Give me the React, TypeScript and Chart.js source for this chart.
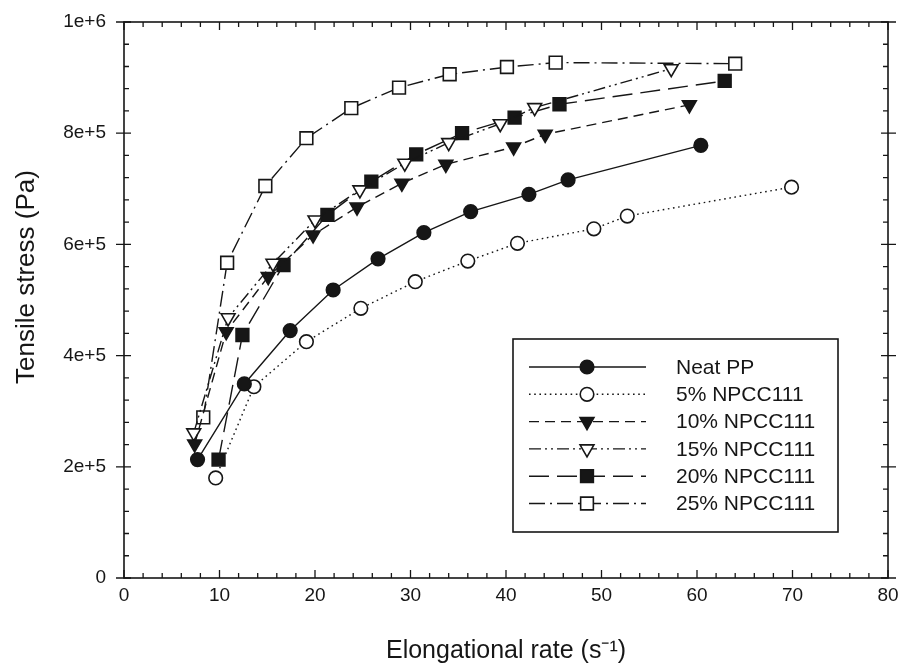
import React, { useEffect, useRef } from 'react';
import { Chart, registerables } from 'chart.js';
import { drawPoint } from 'chart.js/helpers';

Chart.register(...registerables);

const seriesLabels = ['Neat PP', '5% NPCC111', '10% NPCC111', '15% NPCC111', '20% NPCC111', '25% NPCC111'];

const neatX = [7.7, 12.6, 17.4, 21.9, 26.6, 31.4, 36.3, 42.4, 46.5, 60.4];
const neatY = [2.13e5, 3.49e5, 4.45e5, 5.18e5, 5.74e5, 6.21e5, 6.59e5, 6.9e5, 7.16e5, 7.78e5];

const p5X = [9.6, 13.6, 19.1, 24.8, 30.5, 36.0, 41.2, 49.2, 52.7, 69.9];
const p5Y = [1.8e5, 3.44e5, 4.25e5, 4.85e5, 5.33e5, 5.7e5, 6.02e5, 6.28e5, 6.51e5, 7.03e5];

const p10X = [7.4, 10.7, 15.1, 19.8, 24.4, 29.1, 33.7, 40.8, 44.1, 59.2];
const p10Y = [2.41e5, 4.43e5, 5.42e5, 6.17e5, 6.67e5, 7.1e5, 7.44e5, 7.75e5, 7.98e5, 8.51e5];

const p15X = [7.3, 10.9, 15.6, 20.0, 24.7, 29.4, 34.0, 39.4, 43.0, 57.3];
const p15Y = [2.61e5, 4.68e5, 5.66e5, 6.44e5, 6.98e5, 7.46e5, 7.83e5, 8.17e5, 8.46e5, 9.16e5];

const p20X = [9.9, 12.4, 16.7, 21.3, 25.9, 30.6, 35.4, 40.9, 45.6, 62.9];
const p20Y = [2.13e5, 4.37e5, 5.63e5, 6.53e5, 7.13e5, 7.62e5, 8.0e5, 8.28e5, 8.52e5, 8.94e5];

const p25X = [8.3, 10.8, 14.8, 19.1, 23.8, 28.8, 34.1, 40.1, 45.2, 64.0];
const p25Y = [2.89e5, 5.67e5, 7.05e5, 7.91e5, 8.45e5, 8.82e5, 9.06e5, 9.19e5, 9.27e5, 9.25e5];

const xTickValues = [0, 10, 20, 30, 40, 50, 60, 70, 80];
const yTickLabels = ['0', '2e+5', '4e+5', '6e+5', '8e+5', '1e+6'];
const xTitle = 'Elongational rate (s\u207B\u00B9)';
const yTitle = 'Tensile stress (Pa)';

const FONT = "'Liberation Sans', Arial, Helvetica, sans-serif";
const INK = '#161616';

const zip = (xs: number[], ys: number[]) => xs.map((x, i) => ({ x, y: ys[i] }));

const styles = [
  { pointStyle: 'circle', rotation: 0, radius: 6.8, filled: true, dash: [] as number[] },
  { pointStyle: 'circle', rotation: 0, radius: 6.8, filled: false, dash: [1.6, 3.6] },
  { pointStyle: 'triangle', rotation: 180, radius: 8, filled: true, dash: [10, 6] },
  { pointStyle: 'triangle', rotation: 180, radius: 8, filled: false, dash: [12, 4, 2, 4, 2, 4] },
  { pointStyle: 'rect', rotation: 0, radius: 9, filled: true, dash: [20, 8] },
  { pointStyle: 'rect', rotation: 0, radius: 9, filled: false, dash: [16, 5, 2, 5] },
];

const seriesData = [
  zip(neatX, neatY),
  zip(p5X, p5Y),
  zip(p10X, p10Y),
  zip(p15X, p15Y),
  zip(p20X, p20Y),
  zip(p25X, p25Y),
];

const framePlugin = {
  id: 'frameTicks',
  beforeDatasetsDraw(chart: any) {
    const { ctx, chartArea } = chart;
    const { left, right, top, bottom } = chartArea;
    const xs = chart.scales.x;
    const ys = chart.scales.y;
    ctx.save();
    ctx.strokeStyle = INK;
    ctx.lineWidth = 1.6;
    ctx.setLineDash([]);
    ctx.strokeRect(left, top, right - left, bottom - top);
    ctx.lineWidth = 1.3;
    const xt = xs.ticks.map((t: any) => t.value);
    const xStep = xt[1] - xt[0];
    ctx.beginPath();
    xt.forEach((v: number, i: number) => {
      const px = xs.getPixelForValue(v);
      ctx.moveTo(px, bottom); ctx.lineTo(px, bottom - 8);
      ctx.moveTo(px, top); ctx.lineTo(px, top + 8);
      if (i < xt.length - 1) {
        for (let k = 1; k < 5; k++) {
          const mx = xs.getPixelForValue(v + (xStep * k) / 5);
          ctx.moveTo(mx, bottom); ctx.lineTo(mx, bottom - 5);
          ctx.moveTo(mx, top); ctx.lineTo(mx, top + 5);
        }
      }
    });
    const yt = ys.ticks.map((t: any) => t.value);
    const yStep = yt[1] - yt[0];
    yt.forEach((v: number, i: number) => {
      const py = ys.getPixelForValue(v);
      ctx.moveTo(left - 8, py); ctx.lineTo(left + 7, py);
      ctx.moveTo(right - 7, py); ctx.lineTo(right + 8, py);
      if (i < yt.length - 1) {
        for (let k = 1; k < 5; k++) {
          const my = ys.getPixelForValue(v + (yStep * k) / 5);
          ctx.moveTo(left, my); ctx.lineTo(left + 5, my);
          ctx.moveTo(right, my); ctx.lineTo(right - 5, my);
        }
      }
    });
    ctx.stroke();

    // y-axis title
    ctx.fillStyle = INK;
    ctx.font = `26px ${FONT}`;
    ctx.textAlign = 'center';
    ctx.textBaseline = 'middle';
    ctx.translate(27, 277);
    ctx.rotate(-Math.PI / 2);
    ctx.fillText(yTitle, 0, 0);
    ctx.restore();
  },
};

const legendPlugin = {
  id: 'boxLegend',
  afterDraw(chart: any) {
    const { ctx } = chart;
    const boxL = 513, boxT = 339, boxW = 325, boxH = 193;
    const row0 = 367, rowStep = 27.3;
    const lineL = 529, lineR = 646, markX = 587, textX = 676;
    ctx.save();
    ctx.fillStyle = '#ffffff';
    ctx.fillRect(boxL, boxT, boxW, boxH);
    ctx.strokeStyle = INK;
    ctx.lineWidth = 1.6;
    ctx.setLineDash([]);
    ctx.strokeRect(boxL, boxT, boxW, boxH);
    chart.data.datasets.forEach((ds: any, i: number) => {
      const y = row0 + i * rowStep;
      ctx.strokeStyle = INK;
      ctx.lineWidth = ds.borderWidth;
      ctx.setLineDash(ds.borderDash || []);
      ctx.beginPath();
      ctx.moveTo(lineL, y);
      ctx.lineTo(lineR, y);
      ctx.stroke();
      ctx.setLineDash([]);
      ctx.fillStyle = ds.pointBackgroundColor;
      ctx.strokeStyle = ds.pointBorderColor;
      ctx.lineWidth = ds.pointBorderWidth;
      drawPoint(ctx, {
        pointStyle: ds.pointStyle,
        rotation: ds.pointRotation,
        radius: ds.pointRadius,
        borderWidth: ds.pointBorderWidth,
      } as any, markX, y);
      ctx.fillStyle = INK;
      ctx.font = `21px ${FONT}`;
      ctx.textAlign = 'left';
      ctx.textBaseline = 'middle';
      ctx.fillText(ds.label, textX, y + 1);
    });
    ctx.restore();
  },
};

export default function App() {
  const ref = useRef<HTMLCanvasElement | null>(null);
  useEffect(() => {
    if (!ref.current) return;
    const datasets = seriesData.map((d, i) => {
      const s = styles[i];
      return {
        label: seriesLabels[i],
        data: d,
        showLine: true,
        tension: 0,
        borderColor: INK,
        borderWidth: 1.4,
        borderDash: s.dash,
        borderCapStyle: 'butt',
        pointStyle: s.pointStyle,
        pointRotation: s.rotation,
        pointRadius: s.radius,
        pointHoverRadius: s.radius,
        pointBorderWidth: 1.6,
        pointBorderColor: INK,
        pointBackgroundColor: s.filled ? INK : '#ffffff',
        fill: false,
      };
    });
    const chart = new Chart(ref.current, {
      type: 'line',
      data: { datasets } as any,
      options: {
        animation: false,
        responsive: false,
        devicePixelRatio: 1,
        layout: { padding: { top: 22, right: 15, left: 0, bottom: 0 } },
        plugins: { legend: { display: false }, tooltip: { enabled: false } },
        scales: {
          x: {
            type: 'linear',
            min: 0,
            max: 80,
            afterBuildTicks: (scale: any) => {
              scale.ticks = xTickValues.map((v) => ({ value: v }));
            },
            ticks: {
              color: INK,
              font: { size: 19, family: FONT },
              padding: 6,
              maxRotation: 0,
              autoSkip: false,
            },
            grid: { display: false, drawTicks: false },
            border: { display: false },
            title: {
              display: true,
              text: xTitle,
              color: INK,
              font: { size: 25, family: FONT },
              padding: { top: 0, bottom: 2 },
            },
            afterFit: (scale: any) => {
              scale.height = 90;
              scale.paddingLeft = 0;
              scale.paddingRight = 0;
            },
          },
          y: {
            type: 'linear',
            min: 0,
            max: 1e6,
            afterBuildTicks: (scale: any) => {
              scale.ticks = yTickLabels.map((_, i) => ({ value: i * 2e5 }));
            },
            ticks: {
              color: INK,
              font: { size: 19, family: FONT },
              padding: 18,
              autoSkip: false,
              callback: (_v: any, i: number) => yTickLabels[i],
            },
            grid: { display: false, drawTicks: false },
            border: { display: false },
            title: { display: false, text: yTitle },
            afterFit: (scale: any) => {
              scale.width = 124;
              scale.paddingTop = 0;
              scale.paddingBottom = 0;
            },
          },
        },
      },
      plugins: [framePlugin, legendPlugin],
    } as any);
    return () => chart.destroy();
  }, []);
  return (
    <div style={{ position: 'absolute', left: 0, top: 0, width: 903, height: 668, background: '#fff' }}>
      <canvas ref={ref} width={903} height={668} style={{ display: 'block' }} />
    </div>
  );
}
